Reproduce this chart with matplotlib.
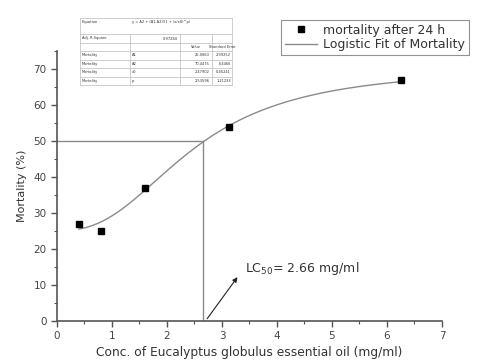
import numpy as np
import matplotlib.pyplot as plt
from matplotlib.ticker import MultipleLocator

# ---
# data
# ---
conc = [0.4, 0.8, 1.6, 3.12, 6.25]
mortality = [27, 25, 37, 54, 67]

# logistic fit parameters, as printed in the inset table
fit_names = ["A1", "A2", "x0", "p"]
fit_values = [25.0863, 70.4475, 2.47902, 2.53596]
fit_errors = [2.99252, 6.4466, 0.45241, 1.21233]
adj_r2 = "0.97284"
lc50 = 2.66

W, H = 481, 361
fig = plt.figure(figsize=(W / 100, H / 100), dpi=100)
ax = fig.add_axes([57 / W, 1 - 321 / H, 385 / W, 270 / H])

grey = "#8a8a8a"
txt = "#333333"

# fit curve
A1, A2, x0, p = fit_values
xs = np.linspace(conc[0], conc[-1], 200)
ys = A2 + (A1 - A2) / (1 + (xs / x0) ** p)
ax.plot(xs, ys, color=grey, lw=1.0, label="Logistic Fit of Mortality", zorder=2)
ax.plot(conc, mortality, "s", color="black", ms=4.5, label="mortality after 24 h", zorder=3)

# LC50 guide lines
ax.plot([0, lc50], [50, 50], color=grey, lw=1.0)
ax.plot([lc50, lc50], [0, 50], color=grey, lw=1.0)
ax.annotate("", xy=(3.31, 12.8), xytext=(2.7, 0),
            arrowprops=dict(arrowstyle="-|>", color="#222222", lw=0.8, mutation_scale=7))
ax.text(3.42, 14.7, r"LC$_{50}$= 2.66 mg/ml", fontsize=9, color=txt, va="center")

ax.set_xlim(0, 7)
ax.set_ylim(0, 75)
ax.xaxis.set_major_locator(MultipleLocator(1))
ax.xaxis.set_minor_locator(MultipleLocator(0.5))
ax.yaxis.set_major_locator(MultipleLocator(10))
ax.yaxis.set_minor_locator(MultipleLocator(5))
ax.set_yticks(range(0, 71, 10))
for s in ["top", "right"]:
    ax.spines[s].set_visible(False)
for s in ["left", "bottom"]:
    ax.spines[s].set_color("#555555")
    ax.spines[s].set_linewidth(1.2)
ax.tick_params(which="major", length=4, width=1, colors="#555555", labelsize=7.5, labelcolor="#444444")
ax.tick_params(which="minor", length=2, width=0.8, colors="#555555")
ax.set_xlabel("Conc. of Eucalyptus globulus essential oil (mg/ml)", fontsize=8.8, color=txt, labelpad=3)
ax.set_ylabel("Mortality (%)", fontsize=8, color=txt, labelpad=5)

# legend (points first)
handles, labels = ax.get_legend_handles_labels()
leg = ax.legend(handles[::-1], labels[::-1], loc="upper left",
                bbox_to_anchor=((281 - 57) / 385, (321 - 20) / 270),
                fontsize=9, frameon=True, fancybox=False, borderpad=0.3,
                labelspacing=0.1, handlelength=2.6, handletextpad=0.5, borderaxespad=0)
leg.get_frame().set_edgecolor("#777777")
leg.get_frame().set_linewidth(0.8)
for t in leg.get_texts():
    t.set_color(txt)

# inset fit table, drawn in figure pixels
def fx(px):
    return px / W

def fy(py):
    return 1 - py / H

left, right = 80, 232
row_edges = [18, 34, 43, 51, 59.5, 68, 76.5, 85]
col_edges = [80, 130, 180, 212, 232]
lc = "#bbbbbb"
for yy in row_edges:
    fig.add_artist(plt.Line2D([fx(left), fx(right)], [fy(yy), fy(yy)], color=lc, lw=0.5))
for xx in [left, right]:
    fig.add_artist(plt.Line2D([fx(xx), fx(xx)], [fy(18), fy(85)], color=lc, lw=0.5))
for xx in col_edges[1:-1]:
    fig.add_artist(plt.Line2D([fx(xx), fx(xx)], [fy(34), fy(85)], color=lc, lw=0.5))

fs = 2.6
fig.text(fx(82), fy(22), "Equation", fontsize=fs, va="center", color=txt)
fig.text(fx(132), fy(22), "y = A2 + (A1-A2)/(1 + (x/x0)^p)", fontsize=fs, va="center", color=txt)
fig.text(fx(82), fy(38.5), "Adj. R-Square", fontsize=fs, va="center", color=txt)
fig.text(fx(178), fy(38.5), adj_r2, fontsize=fs, va="center", ha="right", color=txt)
fig.text(fx(196), fy(47), "Value", fontsize=fs, va="center", ha="center", color=txt)
fig.text(fx(222), fy(47), "Standard Error", fontsize=fs, va="center", ha="center", color=txt)
for i, (n, v, e) in enumerate(zip(fit_names, fit_values, fit_errors)):
    yc = fy((row_edges[3 + i] + row_edges[4 + i]) / 2)
    fig.text(fx(82), yc, "Mortality", fontsize=fs, va="center", color=txt)
    fig.text(fx(132), yc, n, fontsize=fs, va="center", color=txt)
    fig.text(fx(210), yc, f"{v}", fontsize=fs, va="center", ha="right", color=txt)
    fig.text(fx(231), yc, f"{e}", fontsize=fs, va="center", ha="right", color=txt)

fig.savefig("out.png", dpi=100)
